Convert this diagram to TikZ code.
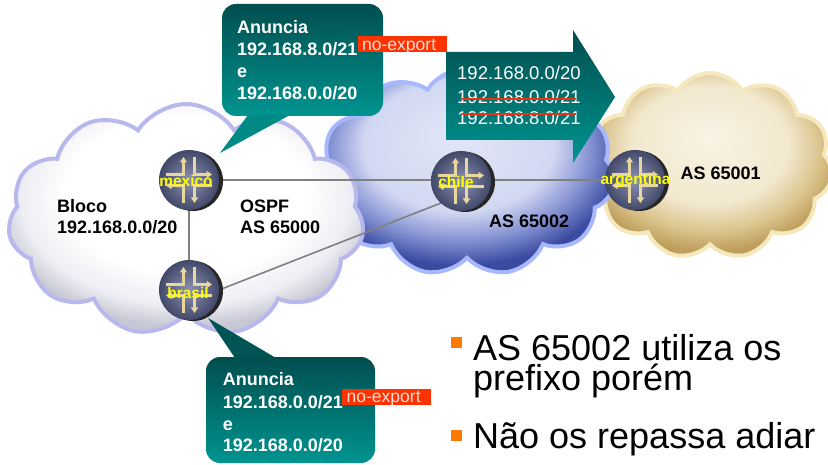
\documentclass[tikz,border=0pt]{standalone}
\usepackage{fontspec}
\setmainfont{Liberation Sans}
\usetikzlibrary{shapes.symbols,shadows,arrows.meta}
\definecolor{tealdark}{RGB}{0,78,78}
\definecolor{teallight}{RGB}{0,148,144}
\definecolor{tealtail}{RGB}{0,138,134}
\definecolor{tealtop}{RGB}{0,84,84}
\definecolor{noexp}{RGB}{255,51,0}
\definecolor{strikec}{RGB}{232,52,20}
\definecolor{bulletc}{RGB}{255,122,0}
\definecolor{linkc}{RGB}{128,128,128}
\definecolor{iconc}{RGB}{232,216,160}
\definecolor{rin}{RGB}{140,146,180}
\definecolor{rout}{RGB}{66,72,104}
\definecolor{lbly}{RGB}{255,255,0}
\definecolor{cLa}{RGB}{255,255,255}
\definecolor{cLb}{RGB}{238,238,244}
\definecolor{cLc}{RGB}{200,200,212}
\definecolor{cLedge}{RGB}{184,184,238}
\definecolor{cMa}{RGB}{226,230,247}
\definecolor{cMb}{RGB}{210,216,242}
\definecolor{cMc}{RGB}{130,144,210}
\definecolor{cMd}{RGB}{58,74,160}
\definecolor{cMedge}{RGB}{168,184,255}
\definecolor{cRa}{RGB}{248,243,228}
\definecolor{cRb}{RGB}{242,232,206}
\definecolor{cRc}{RGB}{220,198,144}
\definecolor{cRd}{RGB}{190,158,90}
\definecolor{cRedge}{RGB}{244,232,188}
\pgfdeclareradialshading{shL}{\pgfpoint{0bp}{8bp}}{color(0bp)=(cLa); color(17bp)=(cLa); color(23bp)=(cLb); color(27bp)=(cLc); color(50bp)=(cLc)}
\pgfdeclareradialshading{shM}{\pgfpoint{-2bp}{9bp}}{color(0bp)=(cMa); color(16bp)=(cMb); color(22bp)=(cMc); color(27bp)=(cMd); color(50bp)=(cMd)}
\pgfdeclareradialshading{shR}{\pgfpoint{0bp}{8bp}}{color(0bp)=(cRa); color(16bp)=(cRb); color(22bp)=(cRc); color(27bp)=(cRd); color(50bp)=(cRd)}
\begin{document}
\begin{tikzpicture}[x=1pt,y=-1pt,
  cloudbase/.style={cloud, cloud puffs=11, cloud puff arc=115, cloud ignores aspect, inner sep=0, line width=4pt},
  router/.style={circle, minimum size=60pt, inner sep=0, shading=radial, inner color=rin, outer color=rout,
     general shadow={fill=black!85, shadow xshift=4pt, shadow yshift=-1pt},
     path picture={\begin{scope}[shift={(path picture bounding box.center)}, x=1pt, y=-1pt, draw=iconc, line width=2.4pt, -{Triangle[length=5.5pt,width=7pt]}]
        \draw (-23,-5.5) -- (-5.5,-5.5) -- (-5.5,-23);
        \draw (5.5,-23) -- (5.5,-5.5) -- (23,-5.5);
        \draw (23,5.5) -- (5.5,5.5) -- (5.5,23);
        \draw (-5.5,23) -- (-5.5,5.5) -- (-23,5.5);
     \end{scope}}},
  rlabel/.style={font=\fontsize{15.5}{15.5}\selectfont\bfseries, text=lbly, inner sep=0, anchor=base},
  link/.style={draw=linkc, line width=1.6pt},
  ctext/.style={font=\fontsize{18}{22}\selectfont\bfseries, text=white, anchor=base west, inner sep=0},
  atext/.style={font=\fontsize{18.5}{22}\selectfont, text=white, anchor=base west, inner sep=0},
  btext/.style={font=\fontsize{18}{22}\selectfont\bfseries, text=black, anchor=base west, inner sep=0},
  bigtext/.style={font=\fontsize{36}{37}\selectfont, text=black, anchor=base west, inner sep=0},
  noexpbox/.style={fill=noexp, draw=none, anchor=north west, minimum width=89pt, minimum height=16pt, inner sep=0},
  noexptext/.style={font=\fontsize{17.5}{17.5}\selectfont, text=white!88!red, anchor=base west, inner sep=0},
  strike/.style={draw=strikec, line width=2pt},
  bulletsq/.style={fill=bulletc, minimum size=11pt, inner sep=0},
  callout/.style={top color=tealdark, bottom color=teallight, rounded corners=14pt}
]
\useasboundingbox (0,0) rectangle (828,465);

% clouds
\node[cloudbase, draw=cRedge, shading=shR, minimum width=245pt, minimum height=186pt] (cloudR) at (710,166) {};
\node[cloudbase, draw=cMedge, shading=shM, minimum width=296pt, minimum height=208pt] (cloudM) at (467,172) {};
\node[cloudbase, draw=cLedge, shading=shL, minimum width=356pt, minimum height=232pt] (cloudL) at (186,220) {};

% router anchors and links
\coordinate (mexicoc) at (189,180);
\coordinate (brasilc) at (189,290);
\coordinate (chilec) at (461,181);
\coordinate (argentinac) at (635,180);
\draw[link] (mexicoc) -- (argentinac);
\draw[link] (mexicoc) -- (brasilc);
\draw[link] ([shift={(30,0)}]brasilc) -- ([shift={(-20,22)}]chilec);

% routers
\node[router] (mexico) at (mexicoc) {};
\node[router] (brasil) at (brasilc) {};
\node[router] (chile) at (chilec) {};
\node[router] (argentina) at (argentinac) {};
\node[rlabel] (mexicol) at (186,186.5) {mexico};
\node[rlabel] (brasill) at (188,299) {brasil};
\node[rlabel] (chilel) at (456,187.3) {chile};
\node[rlabel] (argentinal) at (635.5,184.5) {argentina};

% labels in clouds
\node[btext] (bloco1) at (57,212.3) {Bloco};
\node[btext] (bloco2) at (57,233.3) {192.168.0.0/20};
\node[btext] (ospf1) at (240,212.3) {OSPF};
\node[btext] (ospf2) at (240,233.3) {AS 65000};
\node[btext] (as65002) at (489,227.3) {AS 65002};
\node[btext] (as65001) at (680.5,180) {AS 65001};

% top callout
\path[callout] (222,4) rectangle (383,116);
\fill[tealtail] (248,115) -- (220,153) -- (290,115) -- cycle;
\node[ctext] (t1) at (237,33.5) {Anuncia};
\node[ctext] (t2) at (237,56) {192.168.8.0/21};
\node[ctext] (t3) at (237,77.5) {e};
\node[ctext] (t4) at (237,100) {192.168.0.0/20};

% big arrow
\path[top color=tealdark, bottom color=teallight] (446,52) -- (573,52) -- (573,30) -- (615,97) -- (573,163) -- (573,140) -- (446,140) -- cycle;
\node[atext] (a1) at (457,80) {192.168.0.0/20};
\node[atext] (a2) at (457,103.3) {192.168.0.0/21};
\node[atext] (a3) at (457,125) {192.168.8.0/21};
\draw[strike] (462,99) -- (576,99);
\draw[strike] (462,114.3) -- (576,114.3);

% top no-export
\node[noexpbox] (nx1) at (357.5,36) {};
\begin{scope}
\clip (357.5,36) rectangle (447,52);
\node[noexptext] (nx1t) at (362,51) {no-export};
\end{scope}

% bottom callout
\fill[tealtop] (208,318) -- (235,358) -- (276,358) -- cycle;
\path[callout] (206,357) rectangle (375,463);
\node[ctext] (b1) at (222.7,385.7) {Anuncia};
\node[ctext] (b2) at (222.7,408.3) {192.168.0.0/21};
\node[ctext] (b3) at (222.7,430) {e};
\node[ctext] (b4) at (222.7,451.7) {192.168.0.0/20};

% bottom no-export
\node[noexpbox] (nx2) at (342,388.3) {};
\begin{scope}
\clip (342,388.3) rectangle (431,404);
\node[noexptext] (nx2t) at (346.5,402.5) {no-export};
\end{scope}

% bullets
\node[bulletsq] (sq1) at (456.5,342.5) {};
\node[bulletsq] (sq2) at (456.5,435.5) {};
\node[bigtext] (l1) at (473,360) {AS 65002 utiliza os};
\node[bigtext] (l2) at (473,390.5) {prefixo porém};
\node[bigtext] (l3) at (473,448) {Não os repassa adiar};
\end{tikzpicture}
\end{document}
